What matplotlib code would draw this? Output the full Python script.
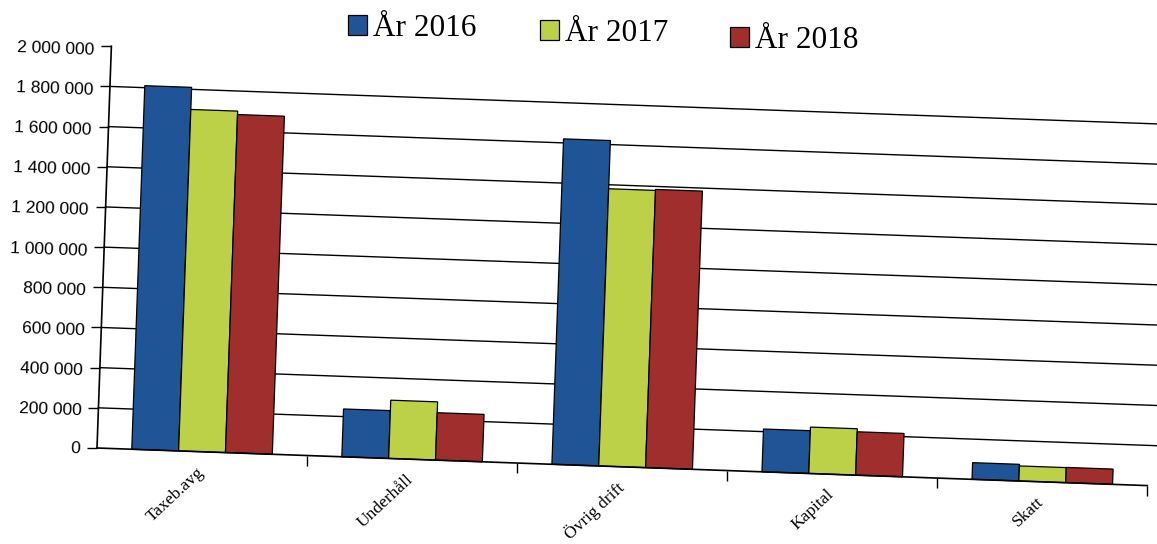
import matplotlib
matplotlib.use("Agg")
import matplotlib.pyplot as plt
from matplotlib.artist import Artist
from matplotlib.transforms import Affine2D
import numpy as np

# ---------------- data ----------------
categories = ["Taxeb.avg", "Underhåll", "Övrig drift", "Kapital", "Skatt"]
series_names = ["År 2016", "År 2017", "År 2018"]
values_2016 = [1810000, 238000, 1620000, 213000, 83000]
values_2017 = [1700000, 290000, 1380000, 231000, 75000]
values_2018 = [1683000, 236000, 1385000, 216000, 76000]
ytick_values = [0, 200000, 400000, 600000, 800000, 1000000,
                1200000, 1400000, 1600000, 1800000, 2000000]
ytick_labels = ["0", "200 000", "400 000", "600 000", "800 000", "1 000 000",
                "1 200 000", "1 400 000", "1 600 000", "1 800 000", "2 000 000"]

colors = ["#1f5596", "#bdd148", "#a02e2c"]

# ---------------- layout ----------------
W, H, DPI = 1157, 544, 100
ANG = 2.05                      # scan is tilted clockwise
X0, Y0 = 97, 96                 # display coords of plot origin
AX_W, AX_H = 1051, 402

fig = plt.figure(figsize=(W / DPI, H / DPI), dpi=DPI, facecolor="white")
ax = fig.add_axes([X0 / W, Y0 / H, AX_W / W, AX_H / H])
ax.set_xlim(-0.5, 4.5)
ax.set_ylim(0, 2000000)
ax.patch.set_visible(False)
for s in ax.spines.values():
    s.set_visible(False)

x = np.arange(len(categories))
bw = 0.223
containers = []
for i, (vals, c) in enumerate(zip([values_2016, values_2017, values_2018], colors)):
    bc = ax.bar(x + (i - 1) * bw, vals, width=bw, color=c,
                edgecolor="black", linewidth=0.9, zorder=3)
    containers.append(bc)

grid_lines = [ax.axhline(v, xmin=0, xmax=1.008, color="black", lw=1.0, zorder=1)
              for v in ytick_values[1:-1]]
base_line = ax.axhline(0, xmin=0, xmax=1, color="black", lw=1.2, zorder=4)
left_line = ax.axvline(-0.5, ymin=0, ymax=1, color="black", lw=1.2, zorder=4)

ax.set_yticks(ytick_values, ytick_labels)
ax.tick_params(axis="y", length=7, width=1, pad=5, labelsize=12.5)
for lab in ax.get_yticklabels():
    lab.set_fontfamily("Liberation Sans")

ax.set_xticks(x, categories)
ax.set_xticks(np.arange(0.5, 5.0, 1.0), minor=True)
ax.tick_params(axis="x", which="major", length=0, pad=13, labelrotation=45)
ax.tick_params(axis="x", which="minor", length=7, width=1, direction="out")
for lab in ax.get_xticklabels():
    lab.set_ha("right")
    lab.set_va("center")
    lab.set_rotation_mode("anchor")
    lab.set_fontfamily("Liberation Serif")
    lab.set_fontsize(12.5)

# legends (three entries, following the tilt of the scan)
leg_pos = [(348, 28.5), (540, 33.5), (730, 40.5)]
for bc, name, (lx, ly) in zip(containers, series_names, leg_pos):
    fig.legend([bc], [name], loc="center left", bbox_to_anchor=(lx / W, 1 - ly / H),
               frameon=False, borderpad=0, borderaxespad=0,
               handlelength=0.6, handleheight=0.6, handletextpad=0.2,
               prop={"family": "Liberation Serif", "size": 22.5})

# ---------------- apply the tilt ----------------
fig.canvas.draw()
rot = Affine2D().rotate_deg_around(X0, Y0, -ANG)


def tilt(a):
    a.set_transform(Artist.get_transform(a) + rot)
    a.set_clip_on(False)


for bc in containers:
    for p in bc.patches:
        tilt(p)
for ln in grid_lines + [base_line, left_line]:
    tilt(ln)
for axis in (ax.xaxis, ax.yaxis):
    for t in axis.get_major_ticks() + axis.get_minor_ticks():
        for a in (t.tick1line, t.tick2line, t.gridline, t.label1, t.label2):
            tilt(a)
        t.label1.set_rotation(t.label1.get_rotation() - ANG)

fig.savefig("out.png", dpi=DPI, facecolor="white")
